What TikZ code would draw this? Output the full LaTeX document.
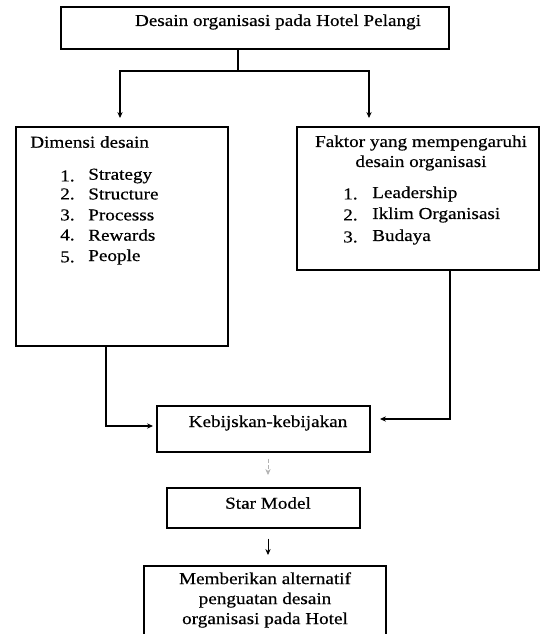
\documentclass[tikz,border=0pt]{standalone}
\usepackage{fontspec}
\setmainfont{Liberation Serif}[FakeStretch=1.15,FakeBold=0.5]
\usetikzlibrary{arrows.meta,positioning}

\begin{document}
\begin{tikzpicture}[x=0.75pt, y=-0.75pt,
  box/.style={draw, line width=1.8pt, inner sep=0pt},
  txt/.style={font=\fontsize{12.5}{15}\selectfont, inner sep=0pt},
  link/.style={line width=0.9pt, -{Stealth[length=4.5pt,width=4pt]}}]
  \clip (0,0) rectangle (543,634);

  \node[box, minimum width=291pt, minimum height=31.5pt] (hotel) at (255,28) {};
  \node[txt] (hoteltxt) at (278,22) {Desain organisasi pada Hotel Pelangi};

  \node[box, minimum width=159pt, minimum height=164pt] (dimensi) at (122,236.5) {};
  \node[txt, anchor=west] (dimtxt) at (30,142) {Dimensi desain};
  \foreach \n/\t/\y in {1/Strategy/176, 2/Structure/194, 3/Processs/215, 4/Rewards/235, 5/People/257} {
    \node[txt, anchor=west] (dimnum\n) at (60,\y) {\n.};
    \node[txt, anchor=west] (dimitem\n) at (88,\y) {\t};
  }

  \node[box, minimum width=181.5pt, minimum height=107pt] (faktor) at (418,198.5) {};
  \node[txt, align=center] (faktxt) at (421,153) {Faktor yang mempengaruhi\\desain organisasi};
  \foreach \n/\t/\y in {1/Leadership/194, 2/Iklim Organisasi/215, 3/Budaya/237} {
    \node[txt, anchor=west] (faknum\n) at (343,\y) {\n.};
    \node[txt, anchor=west] (fakitem\n) at (372,\y) {\t};
  }

  \node[box, minimum width=160pt, minimum height=34.5pt] (kebijakan) at (263.5,429) {};
  \node[txt] (kebtxt) at (268,423) {Kebijskan-kebijakan};

  \node[box, minimum width=145pt, minimum height=30pt] (star) at (263.5,508) {};
  \node[txt] (startxt) at (268,503) {Star Model};

  \node[box, minimum width=181.5pt, minimum height=66pt] (hasil) at (265,610) {};
  \node[txt, align=center] (hasiltxt) at (265,600) {Memberikan alternatif\\penguatan desain\\organisasi pada Hotel};

  \coordinate (split) at (238,71);
  \coordinate (dimin) at (120,118);
  \coordinate (fakin) at (369,118);
  \draw[line width=0.9pt] (hotel.south -| split) -- (split);
  \draw[link] (split) -| (dimin);
  \draw[link] (split) -| (fakin);

  \coordinate (dimout) at (106,426);
  \coordinate (kebl) at (153,426);
  \draw[link] (dimensi.south -| dimout) -- (dimout) -- (kebl);
  \coordinate (fakout) at (450,419);
  \coordinate (kebr) at (380,419);
  \draw[link] (faktor.south -| fakout) -- (fakout) -- (kebr);

  \coordinate (starin) at (268,475);
  \draw[link, densely dashed, gray!60, line width=0.5pt, shorten <=4pt] (kebijakan.south -| starin) -- (starin);
  \coordinate (hasilin) at (268,555);
  \draw[link, line width=0.6pt, shorten <=7pt] (star.south -| hasilin) -- (hasilin);
\end{tikzpicture}
\end{document}
